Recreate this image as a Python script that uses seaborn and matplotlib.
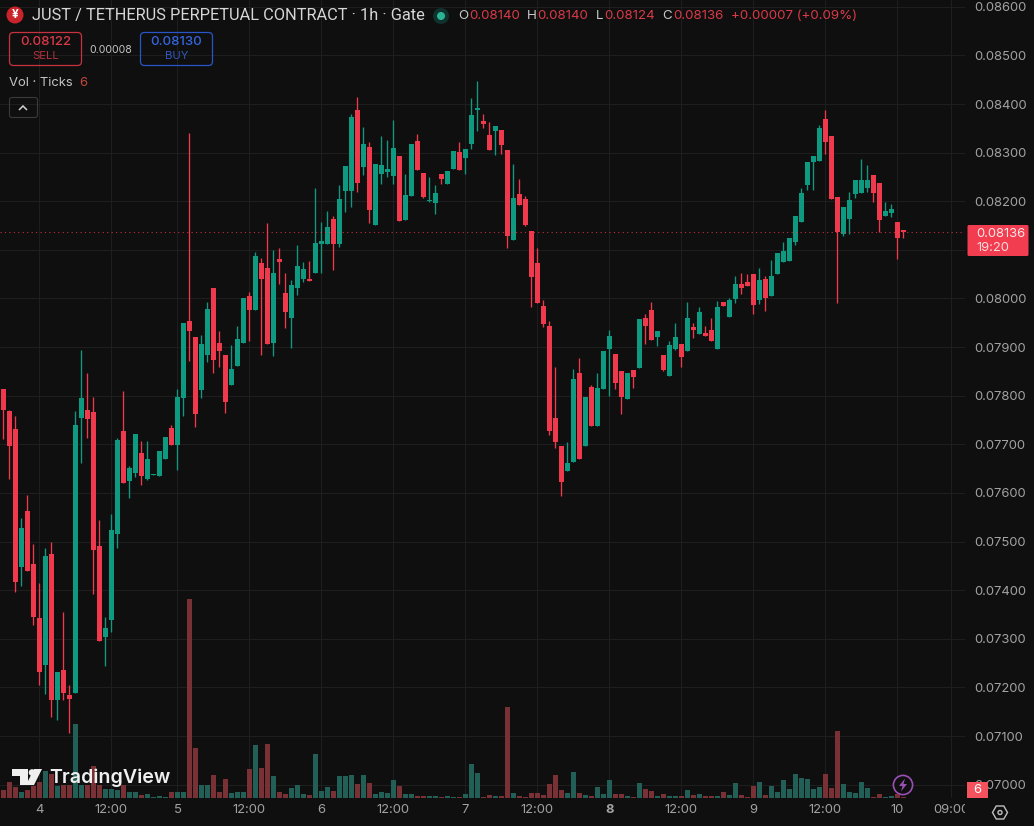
import numpy as np
import pandas as pd
import seaborn as sns
import matplotlib
matplotlib.use("Agg")
import matplotlib.pyplot as plt
from matplotlib.patches import Circle, FancyBboxPatch, Polygon, Rectangle, RegularPolygon
from matplotlib.transforms import Affine2D, Bbox, TransformedBbox

# Hourly OHLC prices, in units of 0.00001
opens = [7814,7769,7732,7448,7563,7454,7343,7246,7474,7174,7236,7184,7188,7754,7771,7766,7491,7304,7339,7516,
         7727,7625,7641,7682,7629,7637,7635,7670,7734,7699,7795,7954,7921,7812,7884,8022,7908,7884,7822,7861,
         7908,8005,7976,8073,8063,7908,8081,8011,7960,8022,8040,8040,8052,8112,8112,8164,8112,8221,8221,8388,
         8270,8312,8151,8256,8260,8252,8293,8161,8211,8324,8258,8201,8196,8256,8235,8266,8301,8289,8318,8388,
         8365,8336,8344,8347,8305,8120,8215,8205,8139,8073,7985,7943,7754,7697,7645,7664,7847,7697,7818,7738,
         7814,7896,7886,7851,7793,7853,7857,7960,7976,7921,7884,7841,7896,7906,7892,7941,7927,7929,7935,7896,
         7993,7962,7999,8030,8034,8050,7997,8040,8005,8050,8075,8077,8116,8157,8233,8281,8283,8369,8334,8209,
         8133,8164,8215,8217,8227,8254,8238,8170,8176,8157,8140]
highs = [7814,7771,7758,7549,7596,7495,7415,7487,7499,7232,7355,7205,7769,7894,7847,7797,7544,7345,7557,7713,
         7810,7655,7721,7707,7707,7639,7686,7715,7740,7814,7950,8340,7921,7925,7993,8022,7933,7884,7904,7943,
         8001,8013,8096,8083,8155,8100,8104,8052,8038,8110,8075,8077,8227,8157,8180,8170,8234,8272,8380,8414,
         8353,8322,8277,8334,8326,8367,8293,8256,8318,8338,8258,8250,8233,8256,8262,8303,8322,8307,8412,8447,
         8380,8363,8355,8347,8305,8277,8246,8211,8139,8104,7997,7954,7859,7697,7705,7855,7878,7797,7822,7847,
         7892,7935,7886,7851,7847,7853,7958,7968,7993,7933,7884,7913,7950,7906,7993,7950,7983,7943,7960,7995,
         7993,8001,8046,8052,8050,8050,8063,8046,8079,8094,8116,8124,8170,8227,8281,8293,8357,8388,8334,8209,
         8188,8219,8244,8287,8275,8254,8238,8198,8194,8157,8140]
lows = [7711,7629,7397,7409,7440,7328,7205,7186,7140,7133,7174,7106,7188,7662,7713,7392,7296,7243,7314,7487,
        7620,7590,7633,7616,7627,7637,7635,7670,7699,7647,7758,7871,7736,7795,7869,7847,7859,7764,7822,7861,
        7908,7913,7976,7884,7906,7882,8030,7939,7898,8007,8034,8036,8052,8052,8112,8059,8106,8178,8188,8219,
        8254,8155,8151,8235,8250,8235,8159,8161,8211,8264,8207,8198,8174,8235,8235,8266,8264,8256,8307,8344,
        8351,8305,8295,8297,8104,8120,8192,8149,7982,7991,7941,7719,7692,7594,7645,7664,7670,7697,7738,7738,
        7814,7799,7814,7762,7793,7816,7857,7906,7915,7902,7851,7841,7894,7859,7892,7919,7927,7923,7913,7896,
        7985,7962,7991,8009,8026,7968,7989,7974,8005,8050,8075,8077,8110,8157,8223,8223,8283,8297,8205,7991,
        8129,8133,8207,8217,8219,8198,8137,8170,8168,8081,8124]
closes = [7771,7697,7417,7528,7440,7345,7232,7470,7174,7232,7188,7176,7740,7795,7752,7483,7296,7322,7524,7709,
          7620,7651,7721,7635,7670,7639,7686,7715,7699,7797,7950,7933,7762,7906,7978,7873,7892,7787,7855,7917,
          8001,7976,8087,8040,7906,8052,8075,7972,8028,8067,8061,8036,8114,8118,8147,8112,8205,8272,8373,8238,
          8318,8182,8277,8275,8266,8310,8159,8213,8318,8264,8209,8203,8217,8246,8262,8303,8264,8307,8377,8392,
          8359,8305,8355,8316,8129,8207,8192,8151,8044,7991,7948,7727,7705,7622,7662,7834,7670,7797,7738,7816,
          7892,7923,7826,7797,7847,7838,7958,7943,7915,7933,7853,7904,7921,7880,7960,7935,7972,7923,7913,7983,
          7985,7997,8030,8022,8026,7987,8038,8001,8046,8094,8098,8124,8170,8217,8281,8293,8351,8322,8205,8137,
          8188,8203,8244,8244,8244,8217,8161,8180,8184,8124,8136]

# Tick volume for each hour
ticks_volume = [40,80,55,30,40,60,80,135,120,60,65,65,370,65,65,160,65,45,45,40,
                65,30,30,15,20,5,10,5,30,30,30,995,250,65,65,115,30,95,25,30,
                30,145,265,150,270,110,30,20,50,65,20,15,220,35,55,35,110,110,115,70,
                115,75,20,30,25,90,60,20,20,10,10,10,10,5,10,5,5,20,170,125,
                5,15,10,10,455,25,10,5,25,25,15,70,115,40,25,130,25,15,10,55,
                20,90,20,20,10,5,75,45,35,10,20,10,10,10,40,15,20,10,10,10,
                30,15,75,15,5,60,80,15,60,30,90,45,120,100,95,45,55,120,50,335,
                70,30,25,80,50,5,20,5,10,20,6]

price_ticks = [0.070 + 0.001 * k for k in range(17)]
time_tick_bars = [6, 18, 29, 41, 53, 65, 77, 89, 101, 113, 125, 137, 149, 158]
time_tick_labels = ["4", "12:00", "5", "12:00", "6", "12:00", "7", "12:00", "8", "12:00", "9", "12:00", "10", "09:00"]

BG = "#0f0f0f"
GRID = "#1e1e1e"
UP = "#0d9a80"
DOWN = "#f0394c"
UP_VOL = "#225f56"
DOWN_VOL = "#7a3135"
LABEL = "#a2a2a2"
FONT = "Inter"

W, H = 1034, 826
sns.set_theme(style="dark", rc={"axes.facecolor": BG, "figure.facecolor": BG})
plt.rcParams["font.family"] = [FONT, "DejaVu Sans"]

fig = plt.figure(figsize=(W / 100, H / 100), dpi=100)
rect = [0, 1 - 798 / H, 965 / W, 798 / H]
ax_back = fig.add_axes(rect, zorder=0)
ax_vol = fig.add_axes(rect, zorder=1, sharex=ax_back)
ax_price = fig.add_axes(rect, zorder=2, sharex=ax_back)
ax_vol.patch.set_visible(False)
ax_price.patch.set_visible(False)

bars = np.arange(len(opens))
frame = pd.DataFrame({
    "bar": bars,
    "open": np.array(opens) * 1e-5,
    "high": np.array(highs) * 1e-5,
    "low": np.array(lows) * 1e-5,
    "close": np.array(closes) * 1e-5,
    "volume": ticks_volume,
})
frame["rising"] = frame["close"] >= frame["open"]
frame["body_low"] = frame[["open", "close"]].min(axis=1)
frame["body"] = (frame["close"] - frame["open"]).abs().clip(lower=2e-5)

# Volume columns, then candle bodies and wicks for each direction
for rising, vol_color, color in [(True, UP_VOL, UP), (False, DOWN_VOL, DOWN)]:
    part = frame[frame["rising"] == rising]
    sns.barplot(data=part, x="bar", y="volume", native_scale=True, ax=ax_vol, color=vol_color,
                saturation=1, width=0.85, linewidth=0, errorbar=None)
    sns.barplot(data=part, x="bar", y="body", native_scale=True, ax=ax_price, color=color,
                saturation=1, width=0.85, linewidth=0, errorbar=None, bottom=part["body_low"].to_numpy())
    ax_price.vlines(part["bar"], part["low"], part["high"], colors=color, linewidth=0.95, zorder=1)

xlim = (-0.567, 160.27)
ylim = (6972.5e-5, 8614e-5)
for ax in (ax_back, ax_vol, ax_price):
    ax.set_xlim(*xlim)
    ax.set_xlabel("")
    ax.set_ylabel("")
    for spine in ax.spines.values():
        spine.set_visible(False)
ax_back.set_ylim(*ylim)
ax_price.set_ylim(*ylim)
ax_vol.set_ylim(0, 3990)
ax_vol.set_yticks([])
ax_vol.tick_params(labelbottom=False, length=0)

ax_back.set_yticks(price_ticks)
ax_back.set_xticks(time_tick_bars)
ax_back.grid(True, color=GRID, linewidth=0.8)
ax_back.tick_params(labelbottom=False, labelleft=False, length=0)

# 0.08100 sits under the last-price badge, so its label stays blank
ax_price.yaxis.tick_right()
ax_price.set_yticks(price_ticks)
ax_price.set_yticklabels(["" if abs(p - 0.081) < 1e-6 else f"{p:.5f}" for p in price_ticks])
ax_price.tick_params(axis="y", length=0, pad=7, labelsize=9.4, labelcolor=LABEL)
ax_price.set_xticks(time_tick_bars)
ax_price.set_xticklabels(time_tick_labels)
ax_price.tick_params(axis="x", length=0, pad=4.5, labelsize=9.4, labelcolor=LABEL)
ax_price.grid(False)

clip = TransformedBbox(Bbox([[0, 0], [965 / W, 1]]), fig.transFigure)
for label_ in ax_price.get_xticklabels():
    label_.set_clip_on(True)
    label_.set_clip_box(clip)
    if label_.get_text() == "8":
        label_.set_fontweight("bold")

# Last-price marker line
ax_price.axhline(frame["close"].iloc[-1], color=DOWN, linewidth=0.8, linestyle=(0, (1, 3)), alpha=0.8)

# Overlay furniture, placed in pixel coordinates from the top-left corner
to_px = Affine2D().scale(1 / W, -1 / H).translate(0, 1) + fig.transFigure


def label(x, y, s, color="#d6d6d6", size=9.4, ha="left", weight="normal", **kw):
    return fig.text(x, y, s, transform=to_px, color=color, fontsize=size, ha=ha, va="center",
                    fontweight=weight, zorder=10, **kw)


def shape(patch):
    patch.set_transform(to_px)
    patch.set_zorder(8)
    fig.add_artist(patch)
    return patch


def box(x0, y0, x1, y1, edge, face="none", lw=0.9, radius=4):
    return shape(FancyBboxPatch((x0, y0), x1 - x0, y1 - y0, boxstyle=f"round,pad=0,rounding_size={radius}",
                                edgecolor=edge, facecolor=face, linewidth=lw))


# Symbol title and OHLC readout
shape(Circle((15, 15), 8.5, facecolor="#c9242b", edgecolor="none"))
label(15, 15, "¥", color="white", size=8.5, ha="center", weight="bold")
label(32, 15.5, "JUST / TETHERUS PERPETUAL CONTRACT · 1h · Gate", size=11.8, family=["Roboto", "DejaVu Sans"])
shape(Circle((441, 16), 8, facecolor="#10322c", edgecolor="none"))
shape(Circle((441, 16), 4, facecolor="#2bb594", edgecolor="none"))
READOUT_RED = "#d93a48"
for x, s, color in [(458, "O", "#c8c8c8"), (469, "0.08140", READOUT_RED),
                    (527, "H", "#c8c8c8"), (537, "0.08140", READOUT_RED),
                    (596, "L", "#c8c8c8"), (604, "0.08124", READOUT_RED),
                    (662, "C", "#c8c8c8"), (673, "0.08136", READOUT_RED),
                    (731, "+0.00007 (+0.09%)", READOUT_RED)]:
    label(x, 16, s, color=color, size=9.6)

# Sell and buy buttons
box(9.5, 32.5, 81.5, 65.5, "#c8323f")
label(45.5, 42, "0.08122", color="#d93a48", size=9.6, ha="center", weight="medium")
label(45.5, 56, "SELL", color="#b5303c", size=8.2, ha="center")
label(111, 50, "0.00008", color="#c4c4c4", size=7.6, ha="center")
box(140.5, 32.5, 212.5, 65.5, "#2a55c8")
label(176.5, 42, "0.08130", color="#3566e0", size=9.6, ha="center", weight="medium")
label(176.5, 56, "BUY", color="#2f57bd", size=8.2, ha="center")

# Indicator legend
label(9, 82.5, "Vol · Ticks", color="#c4c4c4", size=9.4)
label(79, 82.5, "6", color="#c4473f", size=9.4)
box(9.5, 97.5, 37.5, 117.5, "#3a3a3a", lw=0.8, radius=2.5)
shape(Polygon([(19, 110), (23, 106), (27, 110)], closed=False, fill=False, edgecolor="#d0d0d0", linewidth=1.1))

# Last-price badge on the price scale
shape(FancyBboxPatch((967.5, 225), 61, 31, boxstyle="round,pad=0,rounding_size=1.5", facecolor="#f23c50", edgecolor="none"))
label(976, 234, "0.08136", color="#f4e8e8", size=9.4)
label(976, 248, "19:20", color="#f4dcdc", size=9.4)

# Volume value badge
shape(Rectangle((967, 781.5), 21, 16.5, facecolor="#f4525c", edgecolor="none"))
label(977.5, 790, "6", color="white", size=9.4, ha="center")

# Lightning marker on the time scale
shape(Circle((903, 785), 9.6, facecolor=BG, edgecolor="#9a4fb5", linewidth=1.2))
shape(Polygon([(905, 778.5), (899, 786), (902.5, 786), (901, 791.5), (907, 784), (903.5, 784)],
              closed=True, facecolor="#9a4fb5", edgecolor="none"))

# Scale settings icon
shape(RegularPolygon((1000, 812.5), 6, radius=7.5, orientation=np.pi / 2, fill=False, edgecolor="#c0c0c0", linewidth=1))
shape(Circle((1000, 812.5), 2, fill=False, edgecolor="#c0c0c0", linewidth=1))

# TradingView mark
shape(Polygon([(12, 769), (28, 769), (28, 785), (20, 785), (20, 776), (12, 776)], closed=True, facecolor="#efefef", edgecolor="none"))
shape(Circle((32, 772.5), 3.3, facecolor="#efefef", edgecolor="none"))
shape(Polygon([(34, 769), (42, 769), (34, 785), (26, 785)], closed=True, facecolor="#efefef", edgecolor="none"))
label(49, 777.5, "TradingView", color="#efefef", size=14.1, weight="semibold")

fig.savefig("out.png", dpi=100, facecolor=BG)
